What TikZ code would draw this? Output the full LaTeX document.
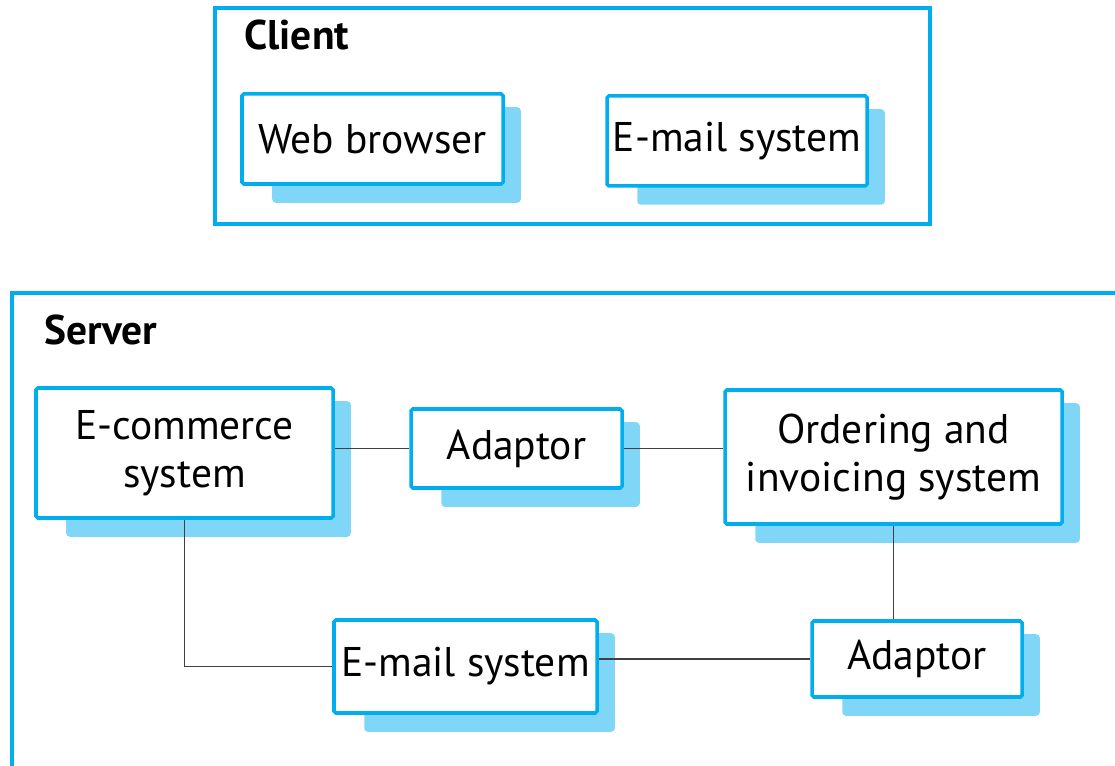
\documentclass[tikz,border=0pt]{standalone}
\usepackage{fontspec}
\setmainfont{PT Sans}
\usetikzlibrary{backgrounds}
\definecolor{frameblue}{RGB}{0,174,239}
\definecolor{shadeblue}{RGB}{128,214,247}
\tikzset{
    comp/.style={draw=frameblue, line width=1pt, fill=white, rounded corners=0.5pt,
        align=center, inner sep=0pt, font=\fontsize{11.8}{13.6}\selectfont},
    wire/.style={line width=0.5pt, black!75},
    tier/.style={draw=frameblue, line width=1pt},
}
\begin{document}
\begin{tikzpicture}
    \useasboundingbox (0,0) rectangle (11.15,7.65);
    \clip (0,0) rectangle (11.15,7.65);
    \draw[tier] (2.15,5.41) rectangle (9.30,7.57);
    \draw[tier] (0.12,-0.3) rectangle (11.4,4.72);
    \node[anchor=west, font=\fontsize{11.8}{13.6}\selectfont\bfseries] (client) at (2.32,7.30) {Client};
    \node[anchor=west, font=\fontsize{11.8}{13.6}\selectfont\bfseries] (server) at (0.32,4.35) {Server};
    \node[comp, minimum width=2.61cm, minimum height=0.90cm] (web) at (3.725,6.26) {Web browser};
    \node[comp, minimum width=2.60cm, minimum height=0.90cm] (mailc) at (7.37,6.24) {E-mail system};
    \node[comp, minimum width=2.97cm, minimum height=1.30cm] (ecom) at (1.845,3.12) {E-commerce\\system};
    \node[comp, minimum width=2.11cm, minimum height=0.79cm] (adtop) at (5.165,3.165) {Adaptor};
    \node[comp, minimum width=3.37cm, minimum height=1.34cm] (order) at (8.935,3.08) {Ordering and\\invoicing system};
    \node[comp, minimum width=2.63cm, minimum height=0.93cm] (mails) at (4.655,0.985) {E-mail system};
    \node[comp, minimum width=2.10cm, minimum height=0.76cm] (adbot) at (9.17,1.06) {Adaptor};
    \begin{scope}[on background layer]
        \foreach \n in {web,mailc,ecom,adtop,order,mails,adbot}
            \fill[shadeblue, rounded corners=1pt] ([shift={(0.32,-0.15)}]\n.north west) rectangle ([shift={(0.16,-0.17)}]\n.south east);
    \end{scope}
    \draw[wire] (adtop.west) -- (adtop.west -| ecom.east);
    \draw[wire] (adtop.east) -- (adtop.east -| order.west);
    \draw[wire] (ecom.south) |- (mails.west);
    \draw[wire] (adbot.west) -- (adbot.west -| mails.east);
    \draw[wire] (order.south) -- (order.south |- adbot.north);
\end{tikzpicture}
\end{document}
